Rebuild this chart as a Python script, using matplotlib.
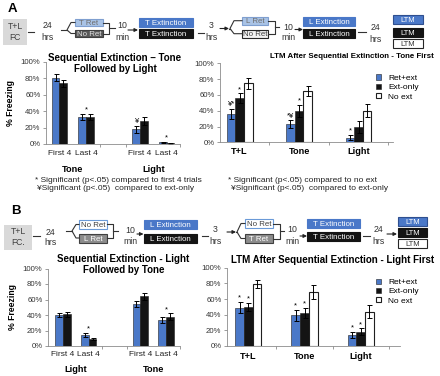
import matplotlib
matplotlib.use("Agg")
import matplotlib.pyplot as plt
from matplotlib import font_manager
from matplotlib.patches import Rectangle, FancyArrowPatch
from matplotlib.lines import Line2D
from matplotlib.transforms import blended_transform_factory

plt.rcParams['font.family'] = ['Liberation Sans', 'DejaVu Sans']

BLUE = '#4a78c8'
BLACK = '#141414'
GREY = '#8c8c8c'

# ---------------- data ----------------
left_pos = [0, 1, 3, 4]
left_ticks = ['First 4', 'Last 4', 'First 4', 'Last 4']
series_names = ['Ret+ext', 'Ext-only', 'No ext']
right_cats = ['T+L', 'Tone', 'Light']

a_left_groups = ['Tone', 'Light']
a_left_ret = [81, 33, 18, 2]
a_left_ret_err = [4, 3.5, 4.5, 1]
a_left_ext = [74, 33, 28, 1]
a_left_ext_err = [4, 3.5, 5, 0.5]
a_left_marks = [(1, None, '*'), (2, 0, '¥'), (3, None, '*')]

a_right_ret = [36, 23, 6]
a_right_ret_err = [6.5, 5, 3]
a_right_ext = [56, 40, 19]
a_right_ext_err = [6, 7.5, 7.5]
a_right_no = [75, 65, 40]
a_right_no_err = [7, 6.5, 8.5]
a_right_marks = [(0, 0, '¥*'), (0, 1, '*'), (1, 0, '*¥'), (1, 1, '*'), (2, 0, '*')]

b_left_groups = ['Light', 'Tone']
b_left_ret = [40, 14, 54, 34]
b_left_ret_err = [3, 2.5, 4, 4]
b_left_ext = [41, 9, 64, 38]
b_left_ext_err = [3, 1, 5, 4]
b_left_marks = [(1, None, '*'), (3, None, '*')]

b_right_ret = [49, 39, 14]
b_right_ret_err = [7, 7, 3.5]
b_right_ext = [50, 42, 18]
b_right_ext_err = [5.5, 6.5, 4.5]
b_right_no = [79, 69, 44]
b_right_no_err = [5, 8.5, 8.5]
b_right_marks = [(0, 0, '*'), (0, 1, '*'), (1, 0, '*'), (1, 1, '*'), (2, 0, '*'), (2, 1, '*')]

# ---------------- figure ----------------
W, H = 440, 376
fig = plt.figure(figsize=(4.4, 3.76), dpi=100)


def fx(x):
    return x / W


def fy(y):
    return 1 - y / H


def rect(x0, y0, x1, y1, fc, ec='none', lw=0.8):
    fig.add_artist(Rectangle((fx(x0), fy(y1)), (x1 - x0) / W, (y1 - y0) / H,
                             transform=fig.transFigure, fc=fc, ec=ec, lw=lw))


def label_box(x0, y0, x1, y1, text, fc, ec, tc, fs=5.7):
    rect(x0, y0, x1, y1, fc, ec)
    fig.text(fx((x0 + x1) / 2), fy((y0 + y1) / 2), text, ha='center',
             va='center_baseline', color=tc, fontsize=fs)


def line(xs, ys, color='#333333', lw=0.8):
    fig.add_artist(Line2D([fx(x) for x in xs], [fy(y) for y in ys],
                          transform=fig.transFigure, color=color, lw=lw))


def arrow(x0, y, x1):
    fig.add_artist(FancyArrowPatch((fx(x0), fy(y)), (fx(x1), fy(y)),
                                   transform=fig.transFigure, arrowstyle='-|>',
                                   mutation_scale=5, lw=0.8, color='#222222',
                                   shrinkA=0, shrinkB=0))


def fork(x0, xm, x1, ymid, ytop, ybot):
    line([x0, xm], [ymid, ymid])
    line([x1, xm + 4, xm, xm + 4, x1], [ytop, ytop, ymid, ybot, ybot])


def bracket(x0, x1, ytop, ybot, xout):
    line([x0, x1, x1, x0], [ytop, ytop, ybot, ybot])
    line([x1, xout], [(ytop + ybot) / 2, (ytop + ybot) / 2])


def tlabel(x, y1, y2, num, unit):
    fig.text(fx(x), fy(y1), num, ha='center', va='center_baseline', fontsize=6.3, color='#333333')
    fig.text(fx(x), fy(y2), unit, ha='center', va='center_baseline', fontsize=6.3, color='#333333')


# ---------------- panel A diagram ----------------
fig.text(fx(12.5), fy(8), 'A', fontsize=9.5, fontweight='bold', ha='center', va='center_baseline')
rect(3, 19, 27, 45, '#d9d9d9')
fig.text(fx(15), fy(32), 'T+L\nFC', ha='center', va='center', fontsize=6.2,
         color='#404040', linespacing=1.25)
line([28, 34], [32, 32])
tlabel(47, 25, 36, '24', 'hrs')
fork(61, 67, 75, 30, 22.5, 33.5)
label_box(75, 19, 103, 26, 'T Ret', '#a9c3e6', '#7f9fd0', '#6f6f6f')
label_box(75, 30, 103, 37, 'No Ret', '#595959', '#404040', '#e0e0e0')
bracket(103, 109, 22.5, 33.5, 115)
tlabel(122, 25, 36, '10', 'min')
arrow(128, 30, 138)
label_box(139, 18, 193, 26.5, 'T Extinction', BLUE, BLUE, 'white')
label_box(139, 29, 193, 37.5, 'T Extinction', BLACK, BLACK, 'white')
line([198, 204], [33, 33])
tlabel(211.5, 24, 36, '3', 'hrs')
arrow(220, 28.5, 229)
fork(229, 230, 242, 28.5, 20.7, 33.7)
label_box(242, 17, 268, 24.5, 'L Ret', '#a9c3e6', '#7f9fd0', '#6f6f6f')
label_box(242, 30, 268, 37.5, 'No Ret', '#f2f2f2', '#262626', '#404040')
bracket(268, 275, 20.7, 33.7, 279)
tlabel(288, 26, 37, '10', 'min')
arrow(295, 29.5, 303)
label_box(303, 17, 355, 25.5, 'L Extinction', BLUE, BLUE, 'white')
label_box(303, 29, 355, 38, 'L Extinction', BLACK, BLACK, 'white')
line([358, 366], [32, 32])
tlabel(375, 26, 38, '24', 'hrs')
label_box(393, 15, 423, 24, 'LTM', BLUE, '#2f4f8f', 'white', fs=5.5)
label_box(393, 28, 423, 37, 'LTM', BLACK, BLACK, 'white', fs=5.5)
label_box(393, 39, 423, 47.5, 'LTM', 'white', '#262626', '#333333', fs=5.5)

# ---------------- panel B diagram ----------------
fig.text(fx(16), fy(210), 'B', fontsize=9.5, fontweight='bold', ha='center', va='center_baseline')
rect(4, 225, 32, 250, '#d9d9d9')
fig.text(fx(18), fy(237), 'T+L\nFC.', ha='center', va='center', fontsize=6.2,
         color='#404040', linespacing=1.25)
line([33, 40], [236, 236])
tlabel(50, 231, 242, '24', 'hrs')
fork(66, 72, 79, 231, 224.5, 238)
label_box(79, 220, 107, 229, 'No Ret', 'white', '#6a9ad8', '#404040')
label_box(79, 234, 107, 242.5, 'L Ret', '#8c8c8c', '#404040', 'white')
bracket(107, 113, 224.5, 238, 118)
tlabel(130, 229.5, 240.5, '10', 'min')
arrow(137, 234, 143.5)
label_box(144, 220, 197, 229, 'L Extinction', BLUE, BLUE, 'white')
label_box(144, 234, 197, 243, 'L Extinction', BLACK, BLACK, 'white')
line([202, 208], [236, 236])
tlabel(215.5, 229, 240.5, '3', 'hrs')
arrow(227, 232, 236)
fork(236, 237, 245, 232, 223.5, 238.5)
label_box(245, 219, 273, 228, 'No Ret', 'white', '#6a9ad8', '#404040')
label_box(245, 234, 273, 243, 'T Ret', '#8c8c8c', '#404040', 'white')
bracket(273, 280, 223.5, 238.5, 284)
tlabel(292, 229, 240.5, '10', 'min')
arrow(300, 236, 307)
label_box(307, 219, 360, 228, 'T Extinction', BLUE, BLUE, 'white')
label_box(307, 232, 360, 241, 'T Extinction', BLACK, BLACK, 'white')
line([363, 370], [236, 236])
tlabel(378, 229, 240.5, '24', 'hrs')
arrow(387, 234, 397)
label_box(398, 217, 427, 225.5, 'LTM', BLUE, '#2f4f8f', 'white', fs=5.5)
label_box(398, 228, 427, 237, 'LTM', BLACK, BLACK, 'white', fs=5.5)
label_box(398, 239, 427, 247.5, 'LTM', 'white', '#262626', '#333333', fs=5.5)

# ---------------- titles ----------------
names = {f.name for f in font_manager.fontManager.ttflist}
narrow = 'Liberation Sans Narrow' in names
fig.text(fx(115), fy(57), 'Sequential Extinction – Tone', ha='center', va='center_baseline',
         fontsize=7, fontweight='bold')
fig.text(fx(115), fy(68), 'Followed by Light', ha='center', va='center_baseline',
         fontsize=7, fontweight='bold')
if narrow:
    fig.text(fx(352), fy(56), 'LTM After Sequential Extinction - Tone First', ha='center',
             va='center_baseline', fontsize=6.8, fontweight='bold',
             family=['Liberation Sans Narrow', 'Liberation Sans'])
else:
    fig.text(fx(352), fy(56), 'LTM After Sequential Extinction - Tone First', ha='center',
             va='center_baseline', fontsize=5.7, fontweight='bold')
fig.text(fx(123.5), fy(258), 'Sequential Extinction - Light', ha='center', va='center_baseline',
         fontsize=7, fontweight='bold')
fig.text(fx(123.5), fy(269), 'Followed by Tone', ha='center', va='center_baseline',
         fontsize=7, fontweight='bold')
fig.text(fx(333), fy(259), 'LTM After Sequential Extinction - Light First', ha='center',
         va='center_baseline', fontsize=7, fontweight='bold')

# ---------------- footnotes ----------------
fig.text(fx(35), fy(179), '* Significant (p<.05) compared to first 4 trials', fontsize=6,
         va='center_baseline', color='#222222')
fig.text(fx(37), fy(188), '¥Significant (p<.05)  compared to ext-only', fontsize=6,
         va='center_baseline', color='#222222')
fig.text(fx(228), fy(179), '* Significant (p<.05) compared to no ext', fontsize=6,
         va='center_baseline', color='#222222')
fig.text(fx(231), fy(188), '¥Significant (p<.05)  compared to ext-only', fontsize=6,
         va='center_baseline', color='#222222')


# ---------------- charts ----------------
def make_axes(x0, y0, x1, y1, xlim):
    ax = fig.add_axes([fx(x0), fy(y1), (x1 - x0) / W, (y1 - y0) / H])
    ax.patch.set_alpha(0)
    for s in ['top', 'right']:
        ax.spines[s].set_visible(False)
    for s in ['left', 'bottom']:
        ax.spines[s].set_color(GREY)
        ax.spines[s].set_linewidth(0.6)
    ax.set_ylim(0, 100)
    ax.set_xlim(*xlim)
    ax.set_yticks(range(0, 101, 20))
    ax.set_yticklabels([f'{v}%' for v in range(0, 101, 20)])
    ax.tick_params(axis='y', length=2.5, width=0.6, color=GREY, labelsize=5.6,
                   pad=1.5, labelcolor='#333333')
    ax.tick_params(axis='x', which='major', length=0)
    ax.tick_params(axis='x', which='minor', length=2.5, width=0.6, color=GREY)
    return ax


def errbars(ax, xs, vals, errs):
    ax.errorbar(xs, vals, yerr=errs, fmt='none', ecolor='black', elinewidth=0.7,
                capsize=1.8, capthick=0.7)


def marks(ax, xs_by_series, tops_by_series, items):
    for idx, ser, sym in items:
        if ser is None:
            x = (xs_by_series[0][idx] + xs_by_series[1][idx]) / 2
            top = max(tops_by_series[0][idx], tops_by_series[1][idx])
        else:
            x = xs_by_series[ser][idx]
            top = tops_by_series[ser][idx]
        ax.annotate(sym, (x, top), xytext=(0, 0.3), textcoords='offset points',
                    ha='center', va='bottom', fontsize=5.5)


def left_chart(rect_px, xlim, w, ret, ret_err, ext, ext_err, groups, items, tick_pad, group_y):
    ax = make_axes(*rect_px, xlim)
    xr = [p - w / 2 for p in left_pos]
    xe = [p + w / 2 for p in left_pos]
    ax.bar(xr, ret, w, color=BLUE, edgecolor='#1f1f1f', lw=0.4)
    ax.bar(xe, ext, w, color=BLACK, edgecolor='#1f1f1f', lw=0.4)
    errbars(ax, xr, ret, ret_err)
    errbars(ax, xe, ext, ext_err)
    tops = [[v + e for v, e in zip(ret, ret_err)], [v + e for v, e in zip(ext, ext_err)]]
    marks(ax, [xr, xe], tops, items)
    ax.set_xticks(left_pos)
    ax.set_xticklabels(left_ticks, fontsize=6, color='#222222')
    ax.tick_params(axis='x', which='major', pad=tick_pad)
    ax.set_xticks([1.5, 2.5, xlim[1]], minor=True)
    tr = blended_transform_factory(ax.transData, fig.transFigure)
    for g, name in enumerate(groups):
        cx = (left_pos[2 * g] + left_pos[2 * g + 1]) / 2
        ax.text(cx, fy(group_y), name, transform=tr, ha='center', va='center_baseline',
                fontsize=6.6, fontweight='bold')
    ax.set_ylabel('% Freezing', fontsize=6.2, fontweight='bold', labelpad=4)
    return ax


def right_chart(rect_px, xlim, w, ret, ret_err, ext, ext_err, no, no_err, items,
                tick_pad, legend_top):
    ax = make_axes(*rect_px, xlim)
    pos = list(range(len(right_cats)))
    xr = [p - w for p in pos]
    xe = pos
    xn = [p + w for p in pos]
    b1 = ax.bar(xr, ret, w, color=BLUE, edgecolor='#1f1f1f', lw=0.4)
    b2 = ax.bar(xe, ext, w, color=BLACK, edgecolor='#1f1f1f', lw=0.4)
    b3 = ax.bar(xn, no, w, color='white', edgecolor='#1f1f1f', lw=0.8)
    errbars(ax, xr, ret, ret_err)
    errbars(ax, xe, ext, ext_err)
    errbars(ax, xn, no, no_err)
    tops = [[v + e for v, e in zip(ret, ret_err)], [v + e for v, e in zip(ext, ext_err)]]
    marks(ax, [xr, xe], tops, items)
    ax.set_xticks(pos)
    ax.set_xticklabels(right_cats, fontsize=6.6, fontweight='bold')
    ax.tick_params(axis='x', which='major', pad=tick_pad)
    ax.set_xticks([0.5, 1.5, 2.5], minor=True)
    ax.legend([b1, b2, b3], series_names, loc='upper left',
              bbox_to_anchor=(fx(376), fy(legend_top)), bbox_transform=fig.transFigure,
              frameon=False, fontsize=6, handlelength=0.6, handleheight=0.6,
              handletextpad=0.85, labelspacing=0.2, borderpad=0, borderaxespad=0)
    return ax


left_chart((46, 62, 180, 144), (-0.5, 4.5), 0.29, a_left_ret, a_left_ret_err,
           a_left_ext, a_left_ext_err, a_left_groups, a_left_marks, 4, 168)
right_chart((220, 63.3, 393, 142.3), (-0.33, 2.58), 0.145, a_right_ret, a_right_ret_err,
            a_right_ext, a_right_ext_err, a_right_no, a_right_no_err, a_right_marks, 3.6, 74.5)
left_chart((48, 268.5, 180, 346), (-0.58, 4.54), 0.3, b_left_ret, b_left_ret_err,
           b_left_ext, b_left_ext_err, b_left_groups, b_left_marks, 3.6, 369)
right_chart((227, 267.7, 400, 346), (-0.38, 2.7), 0.155, b_right_ret, b_right_ret_err,
            b_right_ext, b_right_ext_err, b_right_no, b_right_no_err, b_right_marks, 4.6, 278.5)

fig.savefig('out.png', dpi=100)
